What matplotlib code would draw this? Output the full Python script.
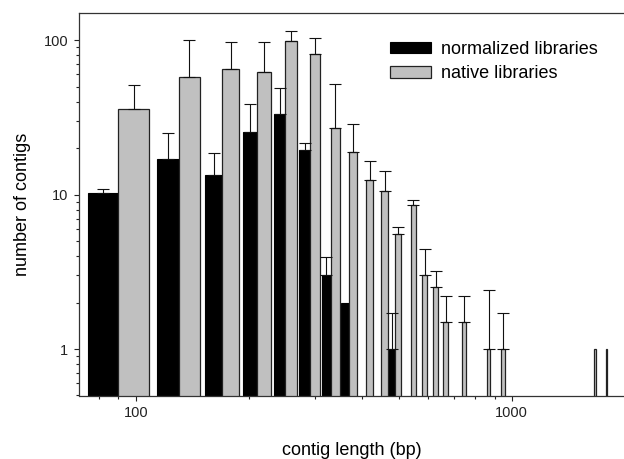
import numpy as np
import matplotlib
matplotlib.use('Agg')
import matplotlib.pyplot as plt
from matplotlib.patches import Patch
from matplotlib.ticker import LogLocator, FixedLocator, FixedFormatter, NullFormatter

plt.rcParams['font.family'] = ['Liberation Sans', 'DejaVu Sans']

# bin position (bp) where the normalized / native bars meet
lengths = np.array([90, 130, 170, 210, 250, 290, 330, 370, 410, 450,
                    490, 538, 578, 618, 658, 738, 858, 938, 1658, 1778])
nan = np.nan
normalized = np.array([10.2, 16.9, 13.4, 25.5, 33.2, 19.5, 3.0, 2.0, nan, nan,
                       1.0, nan, nan, nan, nan, nan, nan, nan, nan, nan])
normalized_err = np.array([0.7, 8.2, 5.1, 12.9, 15.7, 2.1, 0.96, nan, nan, nan,
                           0.71, nan, nan, nan, nan, nan, nan, nan, nan, nan])
native = np.array([35.6, 57.4, 64.9, 61.8, 99.0, 80.9, 27.2, 19.0, 12.5, 10.5,
                   5.53, 8.51, 3.0, 2.51, 1.5, 1.5, 1.0, 1.0, 1.0, 1.0])
native_err = np.array([15.4, 42.6, 32.1, 35.7, 16.0, 22.6, 25.0, 9.7, 4.1, 3.7,
                       0.66, 0.66, 1.42, 0.7, 0.7, 0.7, 1.41, 0.71, nan, nan])

bar_w = 18.5  # bp
hw = np.log10(1 + bar_w / lengths)  # half width in log space
left_b = lengths * 10 ** (-hw)
right_g = lengths * 10 ** hw

fig = plt.figure(figsize=(6.24, 4.59), dpi=100)
ax = fig.add_axes([78.6 / 624, 1 - 395.5 / 459, 546.4 / 624, 382.5 / 459])

ax.set_xscale('log')
ax.set_yscale('log')

m = ~np.isnan(normalized)
ax.bar(x=left_b[m], height=normalized[m] - 0.1, width=lengths[m] - left_b[m], bottom=0.1,
       align='edge', color='black', edgecolor='black', linewidth=0.8, zorder=2)
ax.bar(x=lengths, height=native - 0.1, width=right_g - lengths, bottom=0.1,
       align='edge', color='#c0c0c0', edgecolor='#222222', linewidth=0.9, zorder=2)

xb = lengths * 10 ** (-hw / 2)
xg = lengths * 10 ** (hw / 2)
mb = ~np.isnan(normalized_err)
mg = ~np.isnan(native_err)
ax.errorbar(xb[mb], normalized[mb], yerr=[np.zeros(mb.sum()), normalized_err[mb]],
            fmt='none', ecolor='#111111', elinewidth=0.8, capsize=4.0, capthick=0.8, zorder=3)
ax.errorbar(xg[mg], native[mg], yerr=[np.zeros(mg.sum()), native_err[mg]],
            fmt='none', ecolor='#111111', elinewidth=0.8, capsize=4.0, capthick=0.8, zorder=3)

ax.set_xlim(70.5, 2000)
ax.set_ylim(0.5, 150)

ax.xaxis.set_major_locator(FixedLocator([100, 1000]))
ax.xaxis.set_major_formatter(FixedFormatter(['100', '1000']))
ax.xaxis.set_minor_locator(LogLocator(base=10, subs=np.arange(2, 10)))
ax.xaxis.set_minor_formatter(NullFormatter())
ax.yaxis.set_major_locator(FixedLocator([1, 10, 100]))
ax.yaxis.set_major_formatter(FixedFormatter(['1', '10', '100']))
ax.yaxis.set_minor_locator(LogLocator(base=10, subs=np.arange(2, 10)))
ax.yaxis.set_minor_formatter(NullFormatter())

ax.tick_params(which='major', direction='out', length=3.6, width=0.8, labelsize=10.5, pad=4, colors='#222222')
ax.tick_params(which='minor', direction='out', length=2.2, width=0.8, colors='#222222')
for s in ['top', 'left', 'bottom']:
    ax.spines[s].set_color('#333333')
    ax.spines[s].set_linewidth(0.9)
ax.spines['right'].set_visible(False)

ax.set_xlabel('contig length (bp)', fontsize=13, labelpad=16)
ax.set_ylabel('number of contigs', fontsize=13)
ax.yaxis.set_label_coords(-0.087, 0.5)

handles = [Patch(facecolor='black', edgecolor='black', linewidth=0.8),
           Patch(facecolor='#c0c0c0', edgecolor='#222222', linewidth=0.9)]
ax.legend(handles, ['normalized libraries', 'native libraries'], fontsize=13,
          frameon=False, loc='upper left', bbox_to_anchor=(390 / 624, 1 - 41 / 459),
          bbox_transform=fig.transFigure, borderpad=0, borderaxespad=0,
          handlelength=2.25, handleheight=0.6, handletextpad=0.55, labelspacing=0.4)

fig.savefig('out.png', dpi=100)
